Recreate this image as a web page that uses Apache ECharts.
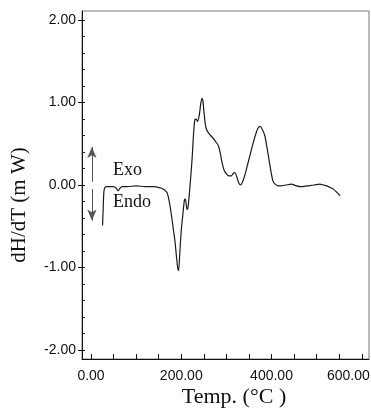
<!DOCTYPE html>
<html>
<head>
<meta charset="utf-8">
<script src="https://cdn.jsdelivr.net/npm/echarts@6/dist/echarts.min.js"></script>
<style>
  html, body { margin: 0; padding: 0; background: #fff; }
  #chart { width: 371px; height: 414px; }
</style>
</head>
<body>
<div id="chart"></div>
<script>
// DSC trace: heat flow derivative vs temperature
const temps = [25.5, 26.5, 28.5, 31, 35, 42, 50, 56, 60, 64, 69, 80, 100, 120, 140, 156, 163, 169, 174, 178,
  182, 186, 189, 192, 194, 197, 200, 204, 207, 209, 211, 213, 215, 218, 221, 224, 227, 230, 233, 236,
  240, 243, 246, 248, 250, 253, 256, 262, 270, 277, 282, 286, 290, 295, 301, 306, 311, 315, 319, 323,
  327, 331, 336, 342, 348, 355, 363, 369, 374, 379, 385, 391, 397, 403, 408, 414, 420, 432, 444, 455,
  465, 480, 495, 507, 515, 522, 530, 537, 545, 552];
const heatFlow = [-0.49, -0.35, -0.08, -0.03, -0.02, -0.02, -0.02, -0.04, -0.07, -0.04, -0.02, -0.02, -0.01, -0.02, -0.02, -0.04, -0.06, -0.10, -0.22, -0.36,
  -0.52, -0.68, -0.85, -1.00, -1.04, -0.80, -0.55, -0.33, -0.18, -0.17, -0.24, -0.30, -0.27, -0.10, 0.10, 0.32, 0.60, 0.79, 0.80, 0.77,
  0.85, 0.98, 1.05, 1.02, 0.90, 0.75, 0.67, 0.62, 0.57, 0.52, 0.48, 0.40, 0.28, 0.18, 0.13, 0.11, 0.11, 0.14, 0.15, 0.10,
  0.03, 0.00, 0.04, 0.14, 0.27, 0.42, 0.58, 0.68, 0.71, 0.68, 0.60, 0.42, 0.22, 0.05, 0.01, -0.01, -0.01, 0.00, 0.01, -0.01,
  -0.02, -0.01, 0.00, 0.01, 0.00, -0.01, -0.03, -0.05, -0.09, -0.13];

const xTickValues = [0, 50, 100, 150, 200, 250, 300, 350, 400, 450, 500, 550, 600];
const xLabelValues = [0, 200, 400, 600];
const yLabelValues = [-2, -1, 0, 1, 2];
const yTickValues = [-2, -1.8, -1.6, -1.4, -1.2, -1, -0.8, -0.6, -0.4, -0.2, 0, 0.2, 0.4, 0.6, 0.8, 1, 1.2, 1.4, 1.6, 1.8, 2];

const xTitle = 'Temp. (°C )';
const yTitle = 'dH/dT (m W)';

const points = temps.map((t, i) => [t, heatFlow[i]]);

const labelFont = { fontFamily: 'Liberation Sans, Arial, sans-serif', fontSize: 14, color: '#111' };
const serif = 'Liberation Serif, Times New Roman, serif';

const chart = echarts.init(document.getElementById('chart'), null, { renderer: 'canvas' });
chart.setOption({
  animation: false,
  backgroundColor: '#fff',
  grid: {
    left: 82, top: 11, right: 2, bottom: 55,
    outerBoundsMode: 'none', containLabel: false,
    show: true, borderColor: '#777', borderWidth: 1, backgroundColor: 'transparent'
  },
  xAxis: {
    type: 'value', min: -20, max: 616,
    axisLine: { show: true, onZero: false, lineStyle: { color: '#111', width: 1 } },
    axisTick: { show: true, inside: true, length: 5, customValues: xTickValues, lineStyle: { color: '#111' } },
    axisLabel: Object.assign({
      customValues: xLabelValues, margin: 10, alignMaxLabel: 'right',
      formatter: v => v === 600 ? '{last|' + v.toFixed(2) + '}' : v.toFixed(2),
      rich: { last: Object.assign({ padding: [0, -8, 0, 0] }, labelFont) }
    }, labelFont),
    splitLine: { show: false }
  },
  yAxis: [{
    // all ticks point into the plot; labels every 1.00
    type: 'value', min: -2.11, max: 2.11, position: 'left',
    axisLine: { show: true, onZero: false, lineStyle: { color: '#111', width: 1 } },
    axisTick: { show: true, inside: true, length: 3, customValues: yTickValues, lineStyle: { color: '#222' } },
    axisLabel: Object.assign({ customValues: yLabelValues, margin: 6, formatter: v => v.toFixed(2) }, labelFont),
    splitLine: { show: false }
  }, {
    // short outward ticks at the labelled values
    type: 'value', min: -2.11, max: 2.11, position: 'left',
    axisLine: { show: false, onZero: false },
    axisTick: { show: true, inside: false, length: 4, customValues: yLabelValues, lineStyle: { color: '#111' } },
    axisLabel: { show: false },
    splitLine: { show: false }
  }],
  series: [{
    type: 'line',
    data: points,
    showSymbol: false,
    smooth: 0.25,
    lineStyle: { color: '#1a1a1a', width: 1.2 },
    markLine: {
      silent: true,
      symbol: ['none', 'arrow'],
      symbolSize: [7, 11],
      label: { show: false },
      lineStyle: { color: '#555', width: 1, type: 'solid' },
      data: [
        [{ coord: [2, 0.04] }, { coord: [2, 0.46] }],
        [{ coord: [2, -0.05] }, { coord: [2, -0.43] }]
      ]
    }
  }],
  graphic: [
    { type: 'text', left: 113, top: 161, style: { text: 'Exo', font: '18px ' + serif, fill: '#111' } },
    { type: 'text', left: 113, top: 193, style: { text: 'Endo', font: '18px ' + serif, fill: '#111' } },
    { type: 'text', x: 234, y: 397, style: { text: xTitle, font: '22px ' + serif, fill: '#111', align: 'center', verticalAlign: 'middle' } },
    { type: 'text', x: 19, y: 205, rotation: Math.PI / 2, style: { text: yTitle, font: '21px ' + serif, fill: '#111', align: 'center', verticalAlign: 'middle' } }
  ]
});
</script>
</body>
</html>
